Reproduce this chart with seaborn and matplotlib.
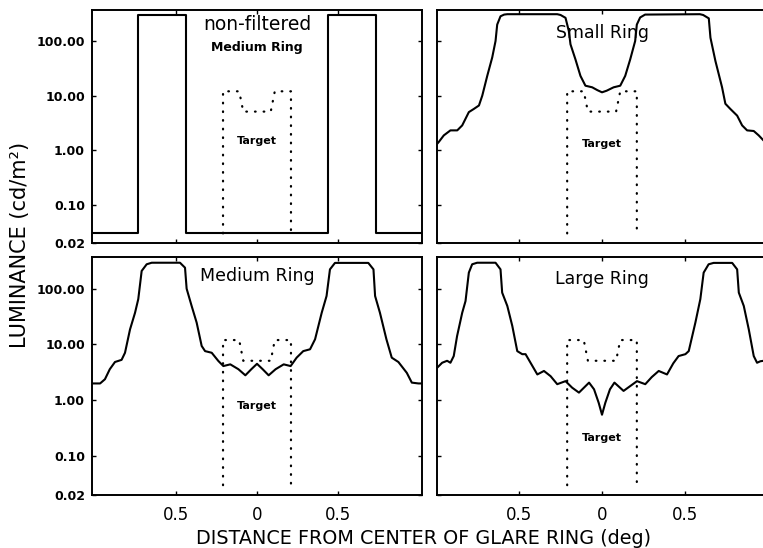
import matplotlib
matplotlib.use("Agg")
import matplotlib.pyplot as plt
import seaborn as sns
from matplotlib.ticker import FixedLocator, FixedFormatter, NullLocator

sns.set_style("ticks")
plt.rcParams['font.family'] = ['DejaVu Sans']
plt.rcParams['text.color'] = 'black'
plt.rcParams['axes.labelcolor'] = 'black'
plt.rcParams['xtick.color'] = 'black'
plt.rcParams['ytick.color'] = 'black'

# ---------------- data ----------------
# non-filtered medium ring (step profile)
nf_x = [-1.02, -0.735, -0.735, -0.44, -0.44, 0.44, 0.44, 0.735, 0.735, 1.02]
nf_y = [0.03, 0.03, 305, 305, 0.03, 0.03, 305, 305, 0.03, 0.03]

# target profile (dotted)
tg_x = [-0.21, -0.21, -0.11, -0.085, 0.085, 0.11, 0.21, 0.21]
tg_y = [0.03, 12, 12, 5.1, 5.1, 12, 12, 0.03]

# small ring (filtered)
sm_x = [-0.995, -0.984, -0.954, -0.914, -0.873, -0.843, -0.803, -0.773, -0.742,
        -0.722, -0.692, -0.662, -0.642, -0.632, -0.612, -0.59, -0.571, -0.27,
        -0.25, -0.22, -0.20, -0.19, -0.16, -0.13, -0.10, -0.059, -0.028, 0.0,
        0.028, 0.07, 0.11, 0.14, 0.17, 0.20, 0.21, 0.23, 0.26, 0.59, 0.61,
        0.644, 0.654, 0.684, 0.724, 0.744, 0.774, 0.815, 0.845, 0.875, 0.915,
        0.945, 0.975, 0.995]
sm_y = [1.3, 1.42, 1.87, 2.31, 2.31, 2.85, 4.99, 5.7, 6.6,
        10, 23, 50, 100, 200, 284, 305, 310, 310,
        300, 266, 152, 87, 46, 23, 15.2, 14.2, 12.6, 11.5,
        12.3, 14.2, 15.2, 23, 46, 100, 200, 270, 305, 310, 300,
        260, 115, 43, 14.2, 7.1, 5.7, 4.3, 2.85, 2.31, 2.25,
        1.87, 1.5, 1.35]

# medium ring (filtered)
md_x = [-1.02, -0.97, -0.94, -0.91, -0.878, -0.837, -0.816, -0.785, -0.754,
        -0.734, -0.713, -0.682, -0.651, -0.476, -0.445, -0.435, -0.404, -0.373,
        -0.342, -0.321, -0.28, -0.239, -0.208, -0.165, -0.115, -0.072, -0.035,
        0.0, 0.035, 0.072, 0.115, 0.165, 0.208, 0.245, 0.286, 0.328, 0.359,
        0.40, 0.43, 0.451, 0.482, 0.688, 0.72, 0.73, 0.76, 0.80, 0.833, 0.874,
        0.926, 0.957, 0.998, 1.02]
md_y = [2.0, 2.0, 2.38, 3.6, 4.85, 5.3, 7.1, 18.6, 37,
        65, 208, 274, 292, 292, 238, 100, 49, 24.6,
        9.4, 7.6, 7.1, 5.06, 4.1, 4.4, 3.6, 2.8, 3.6,
        4.5, 3.6, 2.8, 3.6, 4.4, 4.1, 5.8, 7.6, 8.2, 12.4,
        37, 74, 222, 290, 290, 222, 74, 37, 12.4, 5.8, 4.85,
        3.1, 2.07, 2.0, 2.0]

# large ring (filtered)
lg_x = [-0.995, -0.964, -0.934, -0.914, -0.894, -0.874, -0.843, -0.823, -0.803,
        -0.783, -0.753, -0.642, -0.612, -0.602, -0.571, -0.541, -0.511, -0.481,
        -0.461, -0.431, -0.39, -0.35, -0.31, -0.27, -0.22, -0.18, -0.139,
        -0.078, -0.048, -0.02, 0.0, 0.02, 0.048, 0.075, 0.13, 0.211, 0.261,
        0.30, 0.342, 0.392, 0.43, 0.462, 0.503, 0.523, 0.563, 0.593, 0.613,
        0.643, 0.673, 0.785, 0.815, 0.825, 0.855, 0.885, 0.915, 0.935, 0.955,
        0.975, 0.995]
lg_y = [3.8, 4.7, 5.1, 4.7, 6.2, 14.1, 37, 60, 194,
        274, 292, 292, 222, 85, 49, 21.5, 7.6, 6.7,
        6.7, 4.7, 2.9, 3.35, 2.7, 1.94, 2.2, 1.68, 1.37,
        2.07, 1.57, 0.9, 0.55, 0.9, 1.57, 2.07, 1.47, 2.2, 1.94,
        2.6, 3.35, 2.9, 4.6, 6.2, 6.7, 7.6, 24.6, 65, 194,
        274, 290, 290, 222, 85, 49, 18.7, 6.2, 4.7, 5.0,
        5.1, 4.5]

y_ticks = [0.02, 0.1, 1, 10, 100]
y_tick_labels = ["0.02", "0.10", "1.00", "10.00", "100.00"]
x_ticks = [-0.5, 0, 0.5]
x_tick_labels = ["0.5", "0", "0.5"]

# ---------------- figure ----------------
W, H = 763, 548
fig = plt.figure(figsize=(W / 100, H / 100), dpi=100)


def px_axes(x0, y0, x1, y1):
    return fig.add_axes([x0 / W, 1 - y1 / H, (x1 - x0) / W, (y1 - y0) / H])


ax_tl = px_axes(92, 10, 422, 243)
ax_tr = px_axes(437, 10, 767, 243)
ax_bl = px_axes(92, 257, 422, 495)
ax_br = px_axes(437, 257, 767, 495)

panels = [
    (ax_tl, nf_x, nf_y, True, False),
    (ax_tr, sm_x, sm_y, False, False),
    (ax_bl, md_x, md_y, True, True),
    (ax_br, lg_x, lg_y, False, True),
]

for ax, cx, cy, left, bottom in panels:
    sns.lineplot(x=cx, y=cy, ax=ax, estimator=None, sort=False,
                 color="black", linewidth=1.5)
    sns.lineplot(x=tg_x, y=tg_y, ax=ax, estimator=None, sort=False,
                 color="black", linewidth=1.6, linestyle=(0, (0.3, 3.6)),
                 dash_capstyle="round")
    ax.set_yscale("log")
    ax.set_ylim(0.02, 370)
    if left:
        ax.set_xlim(-1.02, 1.02)
    else:
        ax.set_xlim(-0.995, 0.995)
    ax.yaxis.set_major_locator(FixedLocator(y_ticks))
    ax.yaxis.set_minor_locator(NullLocator())
    ax.xaxis.set_major_locator(FixedLocator(x_ticks))
    ax.xaxis.set_minor_locator(NullLocator())
    if left:
        ax.yaxis.set_major_formatter(FixedFormatter(y_tick_labels))
    else:
        ax.set_yticklabels([])
    if bottom:
        ax.xaxis.set_major_formatter(FixedFormatter(x_tick_labels))
    else:
        ax.set_xticklabels([])
    ax.tick_params(axis="both", which="both", direction="in", length=3,
                   width=1, top=True, right=True, color="black",
                   labelcolor="black")
    ax.tick_params(axis="y", labelsize=9, pad=5)
    ax.tick_params(axis="x", labelsize=12, pad=8)
    for lab in ax.get_yticklabels():
        lab.set_fontweight("bold")
    for s in ax.spines.values():
        s.set_linewidth(1.4)
        s.set_color("black")
        s.set_visible(True)
    ax.set_xlabel("")
    ax.set_ylabel("")
    ax.set_facecolor("white")

# panel annotations
ax_tl.text(0, 200, "non-filtered", ha="center", va="center", fontsize=13.5,
           color="black")
ax_tl.text(0, 77, "Medium Ring", ha="center", va="center", fontsize=9,
           fontweight="bold", color="black")
ax_tl.text(0, 1.5, "Target", ha="center", va="center", fontsize=8,
           fontweight="bold", color="black")
ax_tr.text(0, 142, "Small Ring", ha="center", va="center", fontsize=12.5,
           color="black")
ax_tr.text(0, 1.29, "Target", ha="center", va="center", fontsize=8,
           fontweight="bold", color="black")
ax_bl.text(0, 169, "Medium Ring", ha="center", va="center", fontsize=12.5,
           color="black")
ax_bl.text(0, 0.79, "Target", ha="center", va="center", fontsize=8,
           fontweight="bold", color="black")
ax_br.text(0, 147, "Large Ring", ha="center", va="center", fontsize=12.5,
           color="black")
ax_br.text(0, 0.21, "Target", ha="center", va="center", fontsize=8,
           fontweight="bold", color="black")

fig.text(20 / W, 1 - 245 / H, "LUMINANCE (cd/m²)", rotation=90,
         ha="center", va="center", fontsize=15, color="black")
fig.text(424 / W, 1 - 538 / H, "DISTANCE FROM CENTER OF GLARE RING (deg)",
         ha="center", va="center", fontsize=13.8, color="black")

fig.savefig("out.png", dpi=100, facecolor="white")
